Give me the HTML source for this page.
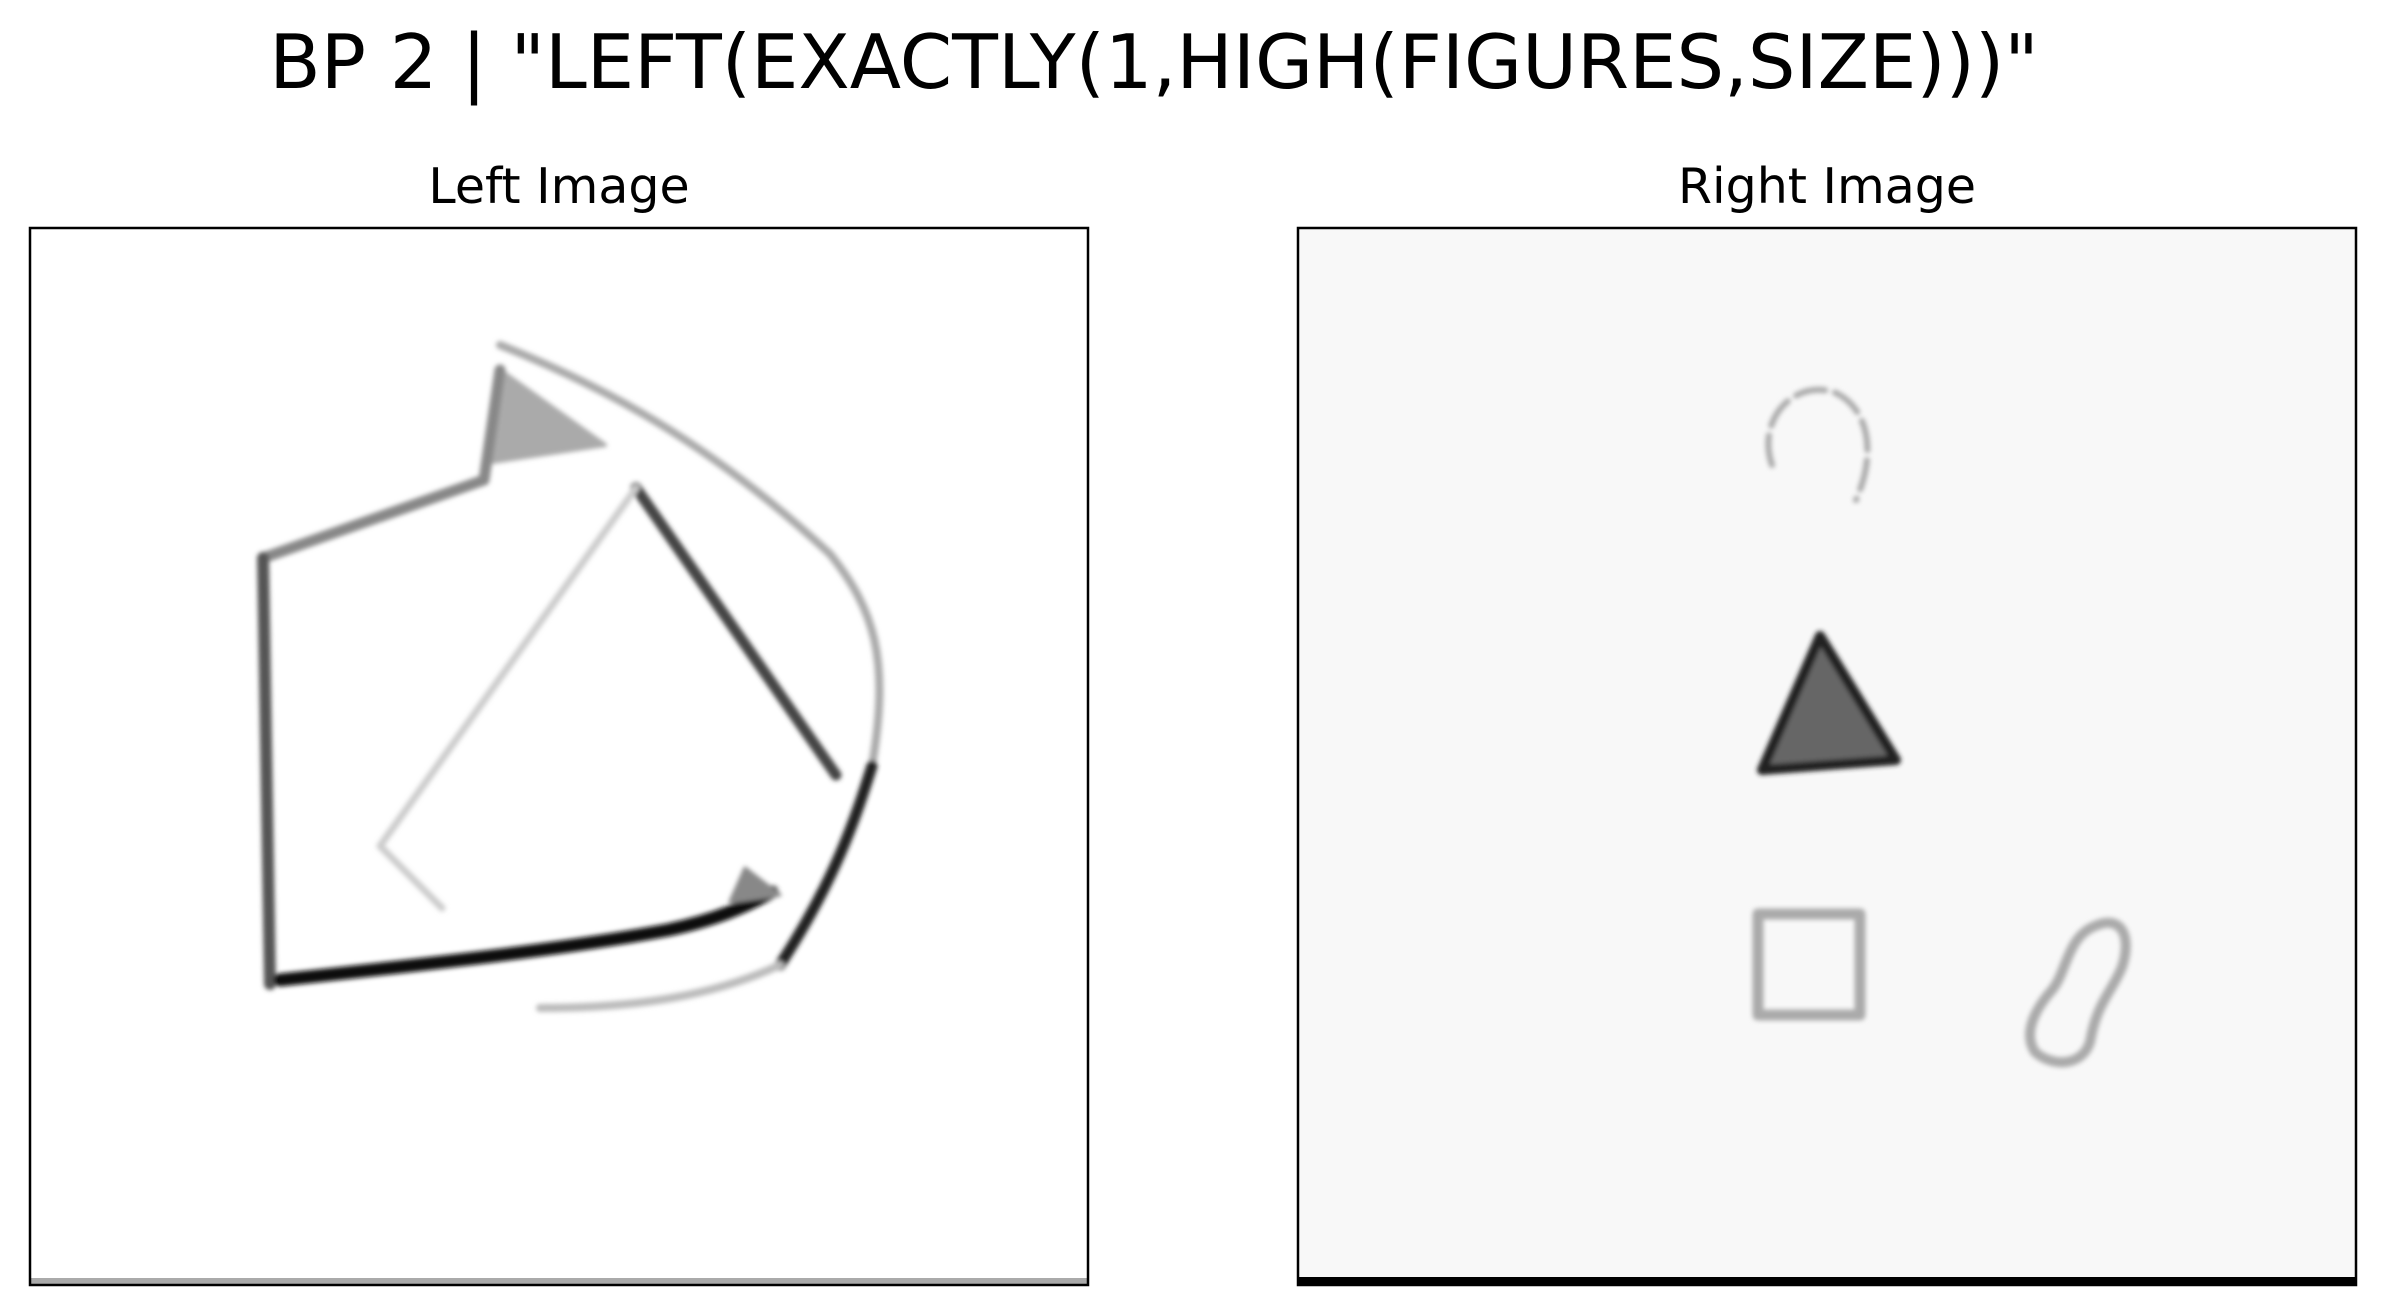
<!DOCTYPE html>
<html><head><meta charset="utf-8"><style>
html,body{margin:0;padding:0;background:#fff}
svg{display:block}
text{font-family:"DejaVu Sans","Liberation Sans",sans-serif;fill:#000}
</style></head><body>
<svg width="2384" height="1315" viewBox="0 0 2384 1315">
<defs><filter id="b" x="-10%" y="-10%" width="120%" height="120%"><feGaussianBlur stdDeviation="2.5"/></filter></defs>
<text x="1154" y="88" font-size="75" text-anchor="middle">BP 2 | "LEFT(EXACTLY(1,HIGH(FIGURES,SIZE)))"</text>
<text x="559" y="203" font-size="49" text-anchor="middle">Left Image</text>
<text x="1827" y="203" font-size="49" text-anchor="middle">Right Image</text>

<g>
<rect x="30" y="228" width="1058" height="1057" fill="#fff"/>
<g filter="url(#b)" fill="none" stroke-linecap="round" stroke-linejoin="round">
<polygon points="500,370 492,462 605,445" fill="#aaa" stroke="#aaa" stroke-width="4"/>
<path d="M500,345 C600,385 707,440 830,554 C875,610 890,660 872,766" stroke="#aaa" stroke-width="8"/>
<path d="M872,766 C855,820 835,880 780,965" stroke="#222" stroke-width="11"/>
<path d="M780,965 C715,995 640,1008 540,1008" stroke="#bbb" stroke-width="8"/>
<path d="M263,558 L484,480 L500,370" stroke="#888" stroke-width="11"/>
<path d="M263,558 L270,984" stroke="#555" stroke-width="12"/>
<path d="M280,980 C420,965 560,950 668,930 C715,920 745,907 772,892" stroke="#111" stroke-width="13"/>
<polygon points="745,868 780,895 730,902" fill="#888" stroke="#888" stroke-width="3"/>
<path d="M636,488 L836,775" stroke="#444" stroke-width="11"/>
<path d="M636,488 L380,846 L442,908" stroke="#ccc" stroke-width="7"/>
</g>
<rect x="31" y="1278" width="1056" height="7" fill="#aaa"/>
<rect x="30" y="228" width="1058" height="1057" fill="none" stroke="#000" stroke-width="2.5"/>
</g>

<g>
<rect x="1298" y="228" width="1058" height="1057" fill="#f8f8f8"/>
<g filter="url(#b)" fill="none" stroke-linecap="round" stroke-linejoin="round">
<path d="M1772,465 C1756,418 1796,378 1836,393 C1870,410 1876,455 1856,500" stroke="#aaa" stroke-width="6" stroke-dasharray="30 10"/>
<polygon points="1820,636 1762,770 1896,760" fill="#666" stroke="#222" stroke-width="10"/>
<rect x="1758" y="914" width="102" height="101" stroke="#aaa" stroke-width="11"/>
<path d="M2095,926 C2122,914 2132,937 2122,967 C2112,992 2097,1002 2090,1042 C2082,1067 2052,1067 2035,1052 C2022,1032 2037,1007 2052,990 C2067,972 2067,937 2095,926 Z" stroke="#aaa" stroke-width="10"/>
</g>
<rect x="1299" y="1277" width="1056" height="8" fill="#000"/>
<rect x="1298" y="228" width="1058" height="1057" fill="none" stroke="#000" stroke-width="2.5"/>
</g>
</svg>
</body></html>
